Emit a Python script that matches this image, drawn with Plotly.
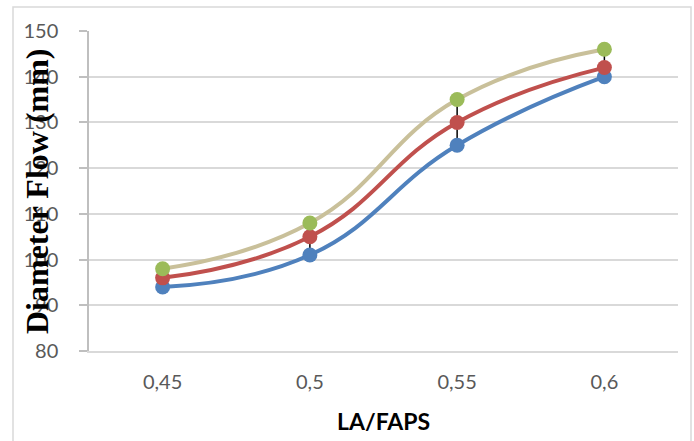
import plotly.graph_objects as go

categories = ["0,45", "0,5", "0,55", "0,6"]
series_blue = [94, 101, 125, 140]
series_red = [96, 105, 130, 142]
series_green = [98, 108, 135, 146]
y_ticks = [80, 90, 100, 110, 120, 130, 140, 150]

hl_plus = [g - b for g, b in zip(series_green, series_blue)]

fig = go.Figure()
fig.add_trace(go.Scatter(
    x=categories, y=series_blue, mode="lines+markers",
    line=dict(color="#4F81BD", width=4, shape="spline", smoothing=1.3),
    marker=dict(color="#4F81BD", size=15),
    error_y=dict(type="data", symmetric=False, array=hl_plus,
                 arrayminus=[0] * len(hl_plus), color="black", thickness=1.5, width=0),
    showlegend=False))
fig.add_trace(go.Scatter(
    x=categories, y=series_red, mode="lines+markers",
    line=dict(color="#C0504D", width=4, shape="spline", smoothing=1.3),
    marker=dict(color="#C0504D", size=15), showlegend=False))
fig.add_trace(go.Scatter(
    x=categories, y=series_green, mode="lines+markers",
    line=dict(color="#C9C09A", width=4, shape="spline", smoothing=1.3),
    marker=dict(color="#9BBB59", size=15), showlegend=False))

fig.update_layout(
    width=694, height=441,
    margin=dict(l=89, r=16, t=31, b=90),
    paper_bgcolor="white", plot_bgcolor="white",
    xaxis=dict(type="category", range=[-0.5, 3.5], showgrid=False,
               showline=True, linecolor="#D9D9D9", linewidth=1.5,
               ticks="", ticklabelstandoff=12,
               tickfont=dict(family="Lato", size=20, color="#595959")),
    yaxis=dict(range=[80, 150], tickvals=y_ticks, showgrid=True,
               gridcolor="#D9D9D9", gridwidth=1.5, zeroline=False,
               showline=True, linecolor="#BFBFBF", linewidth=1.5,
               ticks="outside", ticklen=8, tickcolor="#BFBFBF", tickwidth=1.5,
               ticklabelstandoff=17,
               tickfont=dict(family="Lato", size=20, color="#595959")),
    shapes=[dict(type="rect", xref="paper", yref="paper",
                 x0=(13 - 89) / 589, x1=(691 - 89) / 589,
                 y0=-0.35, y1=(351 - 7) / 320,
                 line=dict(color="#D9D9D9", width=1.5), fillcolor="rgba(0,0,0,0)",
                 layer="below")],
    annotations=[
        dict(text="<b>Diameter Flow (mm)</b>", xref="paper", yref="paper",
             x=(37 - 89) / 589, y=0.5, textangle=-90, showarrow=False,
             xanchor="center", yanchor="middle",
             font=dict(family="Liberation Serif", size=32, color="black")),
        dict(text="<b>LA/FAPS</b>", xref="paper", yref="paper",
             x=0.5, y=(351 - 421) / 320, showarrow=False,
             xanchor="center", yanchor="middle",
             font=dict(family="Lato", size=23, color="black")),
    ],
)

fig.write_html("out.html")
